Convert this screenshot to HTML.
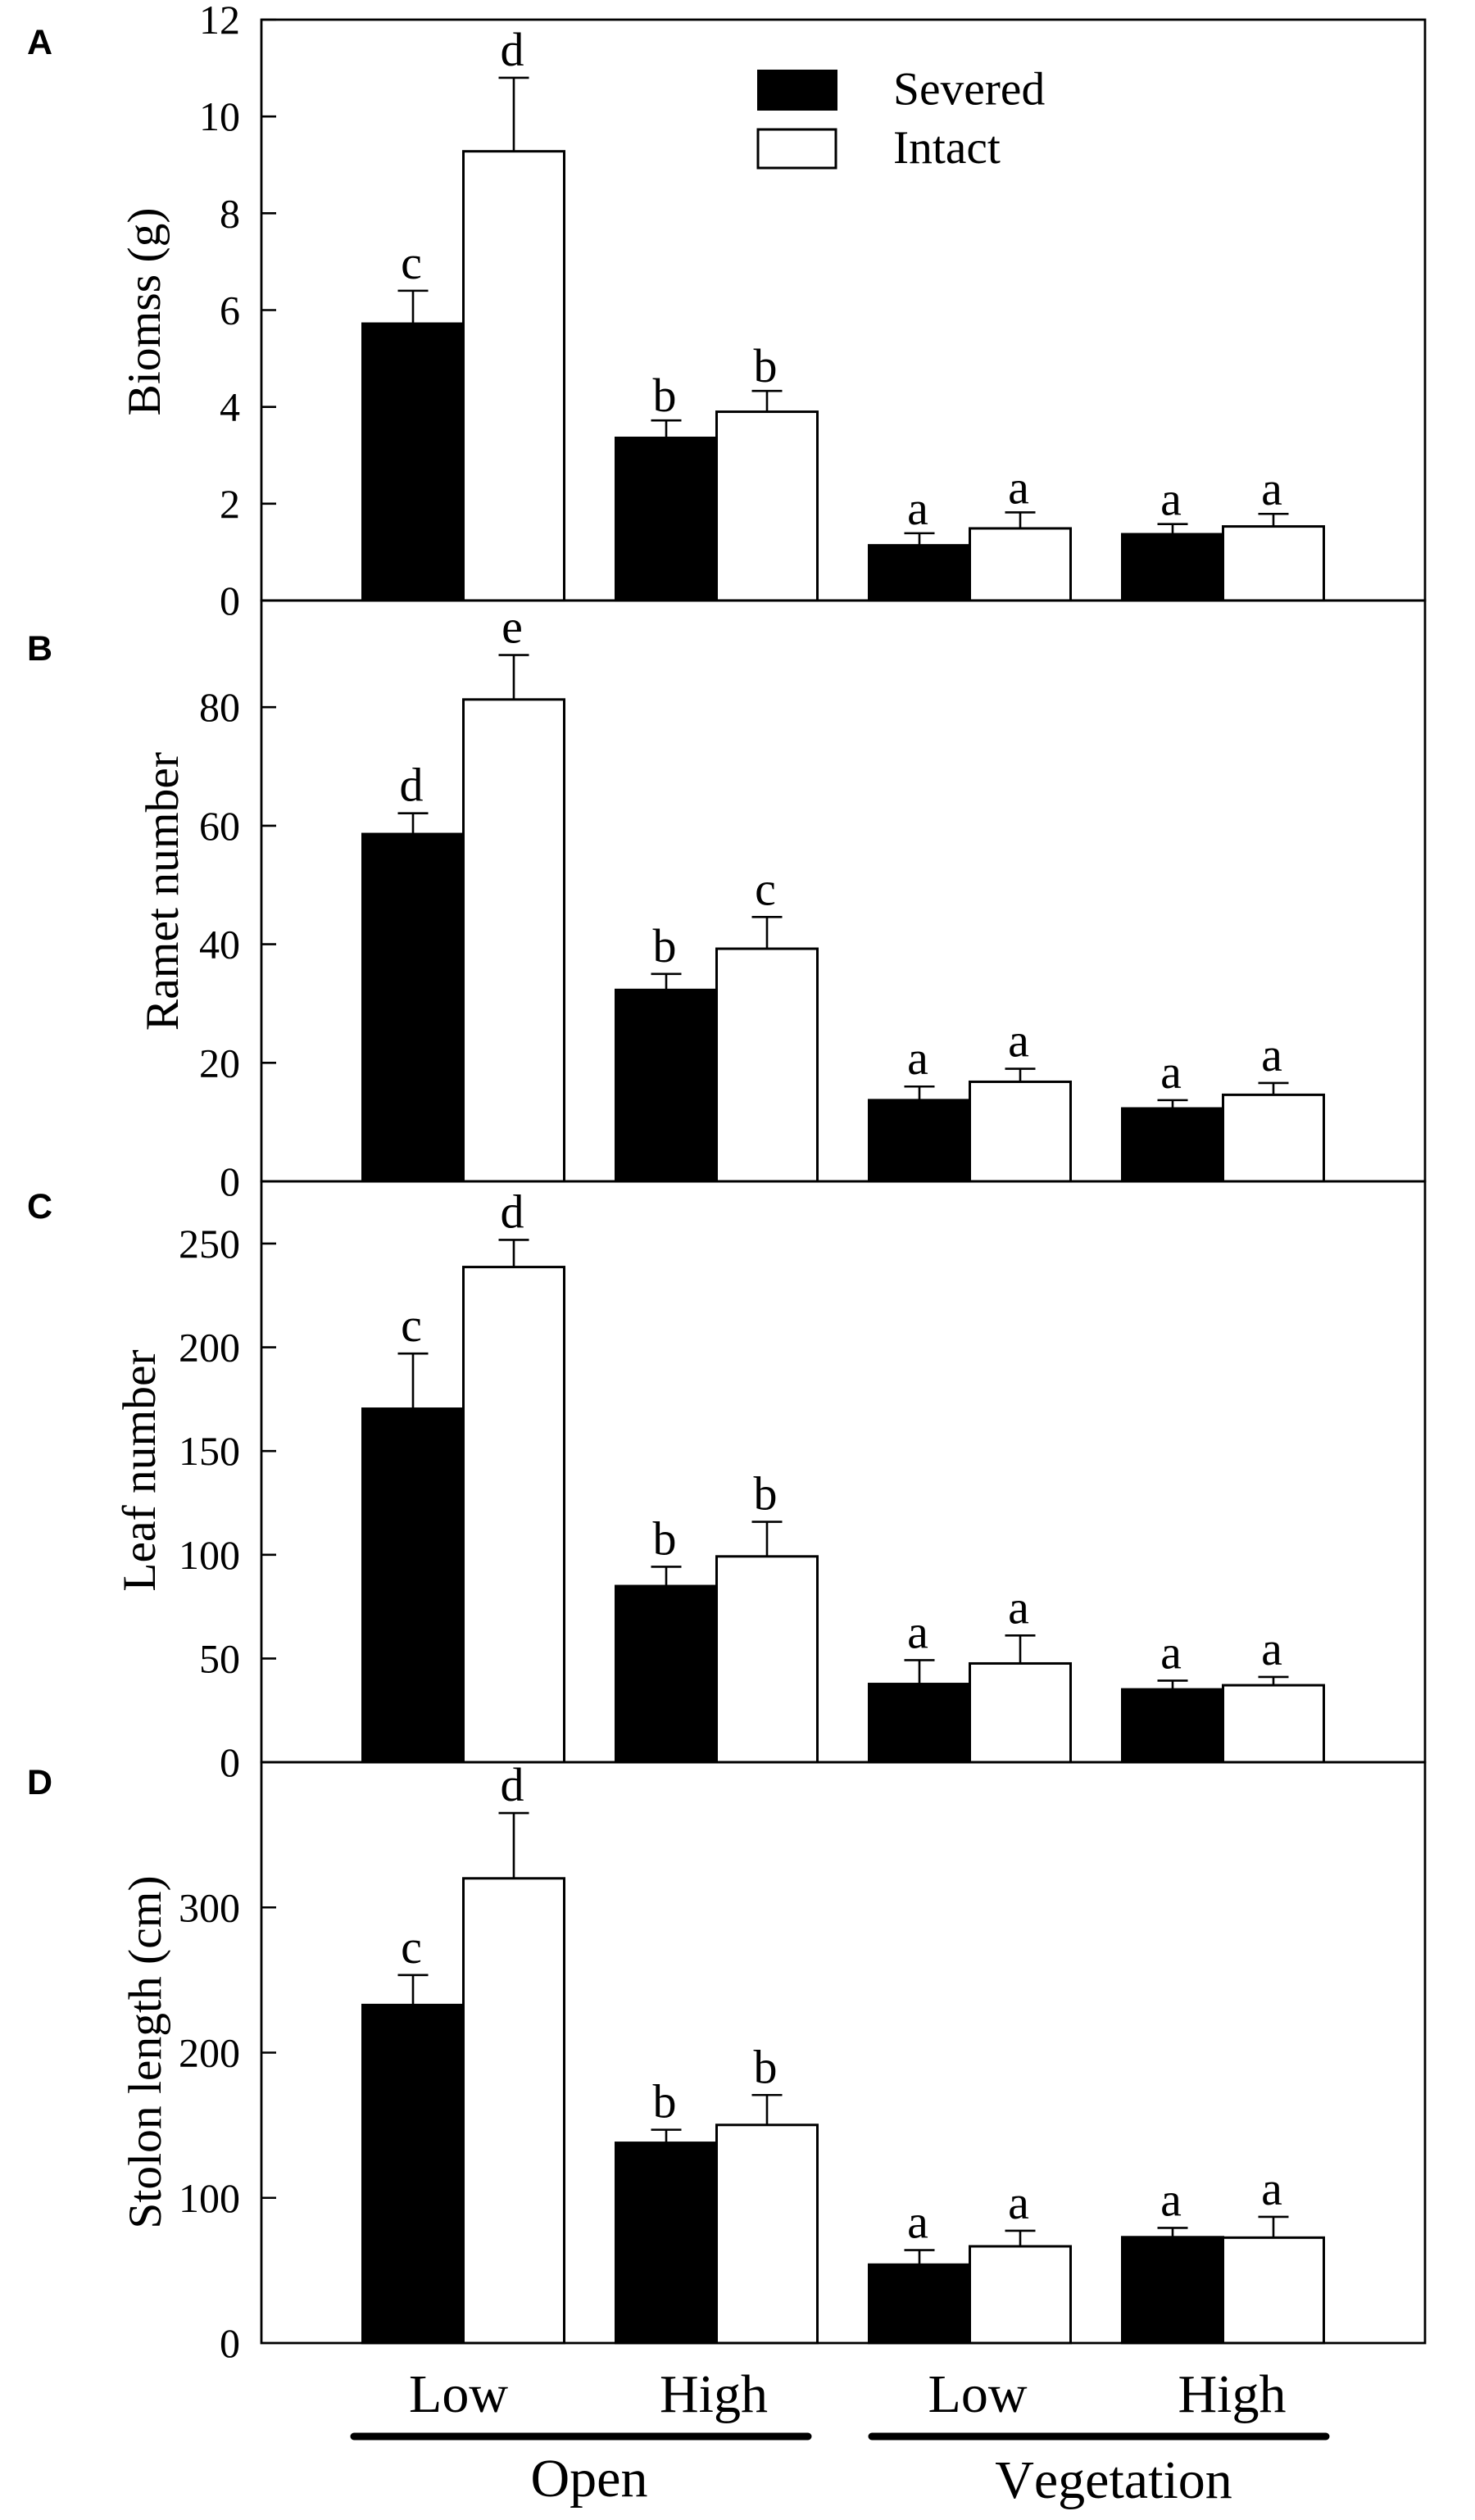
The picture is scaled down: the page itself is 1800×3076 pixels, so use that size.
<!DOCTYPE html>
<html lang="en">
<head>
<meta charset="utf-8">
<title>Biomass, ramet number, leaf number and stolon length</title>
<style>
html,body{margin:0;padding:0;background:#fff;}
svg{display:block;}
text{font-family:"Liberation Serif",serif;fill:#000;font-kerning:none;}
.panel-letter{font-family:"Liberation Sans",sans-serif;font-weight:700;font-size:43px;}
.tick-label{font-size:50px;text-anchor:end;}
.axis-title{font-size:57.5px;text-anchor:middle;}
.sig{font-size:58px;text-anchor:middle;}
.legend-text{font-size:57.5px;}
.cat{font-size:66px;text-anchor:middle;}
</style>
</head>
<body>
<svg id="chart" xmlns="http://www.w3.org/2000/svg" width="1800" height="3076" viewBox="0 0 1800 3076">
  <rect x="0" y="0" width="1800" height="3076" fill="#fff"/>
  <g id="panels"></g>

  <g>
    <rect x="925" y="86" width="96" height="48" fill="#000" stroke="#000" stroke-width="2"/>
    <text class="legend-text" x="1090" y="127.5">Severed</text>
    <rect x="925" y="158" width="95" height="47" fill="#fff" stroke="#000" stroke-width="3"/>
    <text class="legend-text" x="1090" y="199">Intact</text>
  </g>

  <g>
    <text class="cat" x="559.5" y="2944">Low</text>
    <text class="cat" x="871" y="2944">High</text>
    <text class="cat" x="1193" y="2944">Low</text>
    <text class="cat" x="1503.5" y="2944">High</text>
    <line x1="432" y1="2974" x2="986" y2="2974" stroke="#000" stroke-width="9" stroke-linecap="round"/>
    <line x1="1064" y1="2974" x2="1618" y2="2974" stroke="#000" stroke-width="9" stroke-linecap="round"/>
    <text class="cat" x="719" y="3047">Open</text>
    <text class="cat" x="1359" y="3049">Vegetation</text>
  </g>
</svg>

<script>
// Panel A: biomass
const biomassTicks = [0, 2, 4, 6, 8, 10, 12];
const biomassSevered = [5.72, 3.36, 1.14, 1.37];
const biomassSeveredTop = [6.4, 3.72, 1.39, 1.58];
const biomassIntact = [9.28, 3.9, 1.49, 1.53];
const biomassIntactTop = [10.8, 4.33, 1.82, 1.79];
const biomassSeveredSig = ['c', 'b', 'a', 'a'];
const biomassIntactSig = ['d', 'b', 'a', 'a'];

// Panel B: ramet number
const rametTicks = [0, 20, 40, 60, 80];
const rametSevered = [58.6, 32.3, 13.7, 12.3];
const rametSeveredTop = [62.1, 35.0, 16.0, 13.7];
const rametIntact = [81.3, 39.25, 16.8, 14.6];
const rametIntactTop = [88.8, 44.6, 19.0, 16.6];
const rametSeveredSig = ['d', 'b', 'a', 'a'];
const rametIntactSig = ['e', 'c', 'a', 'a'];

// Panel C: leaf number
const leafTicks = [0, 50, 100, 150, 200, 250];
const leafSevered = [170.4, 84.9, 37.7, 35.1];
const leafSeveredTop = [197, 94.2, 49.2, 39.3];
const leafIntact = [238.7, 99.2, 47.6, 37.1];
const leafIntactTop = [251.8, 115.9, 61.1, 41.1];
const leafSeveredSig = ['c', 'b', 'a', 'a'];
const leafIntactSig = ['d', 'b', 'a', 'a'];

// Panel D: stolon length
const stolonTicks = [0, 100, 200, 300];
const stolonSevered = [232.8, 137.9, 54, 72.9];
const stolonSeveredTop = [253.4, 146.9, 64, 79.3];
const stolonIntact = [320, 150.2, 66.6, 72.6];
const stolonIntactTop = [365, 170.8, 77.3, 86.9];
const stolonSeveredSig = ['c', 'b', 'a', 'a'];
const stolonIntactSig = ['d', 'b', 'a', 'a'];

const categories = ['open-low', 'open-high', 'vegetation-low', 'vegetation-high'];

const NS = 'http://www.w3.org/2000/svg';
const FRAME_L = 319, FRAME_R = 1739, PANEL_H = 709;
const GROUP_X0 = 442.5, GROUP_STEP = 309, BAR_W = 123, CAP_HALF = 18.5;

function make(parent, tag, attrs, text) {
  const el = document.createElementNS(NS, tag);
  for (const k in attrs) el.setAttribute(k, attrs[k]);
  if (text !== undefined) el.textContent = text;
  parent.appendChild(el);
  return el;
}

function drawPanel(cfg) {
  const root = document.getElementById('panels');
  const g = make(root, 'g', {});
  
  

  const bottom = cfg.top + PANEL_H;
  const y = v => bottom - (v / cfg.max) * PANEL_H;
  const xSevered = i => GROUP_X0 + i * GROUP_STEP;
  const xIntact = i => xSevered(i) + BAR_W;

  function series(name, values, tops, sigs, xFn, fill) {
    values.forEach((v, i) => {
      const bar = make(g, 'rect', { x: xFn(i), y: y(v), width: BAR_W, height: bottom - y(v), fill: fill, stroke: '#000', 'stroke-width': 3 });
      
      
    });
    tops.forEach((t, i) => {
      const cx = xFn(i) + BAR_W / 2;
      const err = make(g, 'path', {
        d: 'M' + cx + ' ' + y(values[i]) + 'V' + y(t) + 'M' + (cx - CAP_HALF) + ' ' + y(t) + 'H' + (cx + CAP_HALF),
        fill: 'none', stroke: '#000', 'stroke-width': 2.6
      });
      
      
      const gap = (cfg.key === 'biomass' && i > 0) ? 11 : 15;
      const label = make(g, 'text', { class: 'sig', x: cx - 2, y: y(t) - gap }, sigs[i]);
      
      
    });
  }

  series('severed', cfg.severed, cfg.severedTop, cfg.severedSig, xSevered, '#000');
  series('intact', cfg.intact, cfg.intactTop, cfg.intactSig, xIntact, '#fff');

  const frame = make(g, 'rect', { x: FRAME_L, y: cfg.top, width: FRAME_R - FRAME_L, height: PANEL_H, fill: 'none', stroke: '#000', 'stroke-width': 2.8 });
  
  

  cfg.ticks.forEach(t => {
    if (t !== 0) {
      const tick = make(g, 'line', { x1: FRAME_L, x2: FRAME_L + 18, y1: y(t), y2: y(t), stroke: '#000', 'stroke-width': 2.6 });
      
      
    }
    const lab = make(g, 'text', { class: 'tick-label', x: 293, y: y(t) + 17 }, String(t));
    
    
  });

  const title = make(g, 'text', { class: 'axis-title', transform: 'translate(' + cfg.titleX + ' ' + cfg.titleY + ') rotate(-90)' }, cfg.title);
  
  

  const letter = make(g, 'text', { class: 'panel-letter', x: 33, y: cfg.letterY }, cfg.letter);
  
  
}

drawPanel({ key: 'biomass', letter: 'A', letterY: 66, top: 24, max: 12, title: 'Biomss (g)', titleX: 195, titleY: 380.5,
  ticks: biomassTicks, severed: biomassSevered, severedTop: biomassSeveredTop, intact: biomassIntact, intactTop: biomassIntactTop,
  severedSig: biomassSeveredSig, intactSig: biomassIntactSig });
drawPanel({ key: 'ramet', letter: 'B', letterY: 806, top: 733, max: 98, title: 'Ramet number', titleX: 217, titleY: 1088,
  ticks: rametTicks, severed: rametSevered, severedTop: rametSeveredTop, intact: rametIntact, intactTop: rametIntactTop,
  severedSig: rametSeveredSig, intactSig: rametIntactSig });
drawPanel({ key: 'leaf', letter: 'C', letterY: 1487, top: 1442, max: 280, title: 'Leaf number', titleX: 189, titleY: 1795,
  ticks: leafTicks, severed: leafSevered, severedTop: leafSeveredTop, intact: leafIntact, intactTop: leafIntactTop,
  severedSig: leafSeveredSig, intactSig: leafIntactSig });
drawPanel({ key: 'stolon', letter: 'D', letterY: 2190, top: 2151, max: 400, title: 'Stolon length (cm)', titleX: 196, titleY: 2505,
  ticks: stolonTicks, severed: stolonSevered, severedTop: stolonSeveredTop, intact: stolonIntact, intactTop: stolonIntactTop,
  severedSig: stolonSeveredSig, intactSig: stolonIntactSig });
</script>
</body>
</html>
